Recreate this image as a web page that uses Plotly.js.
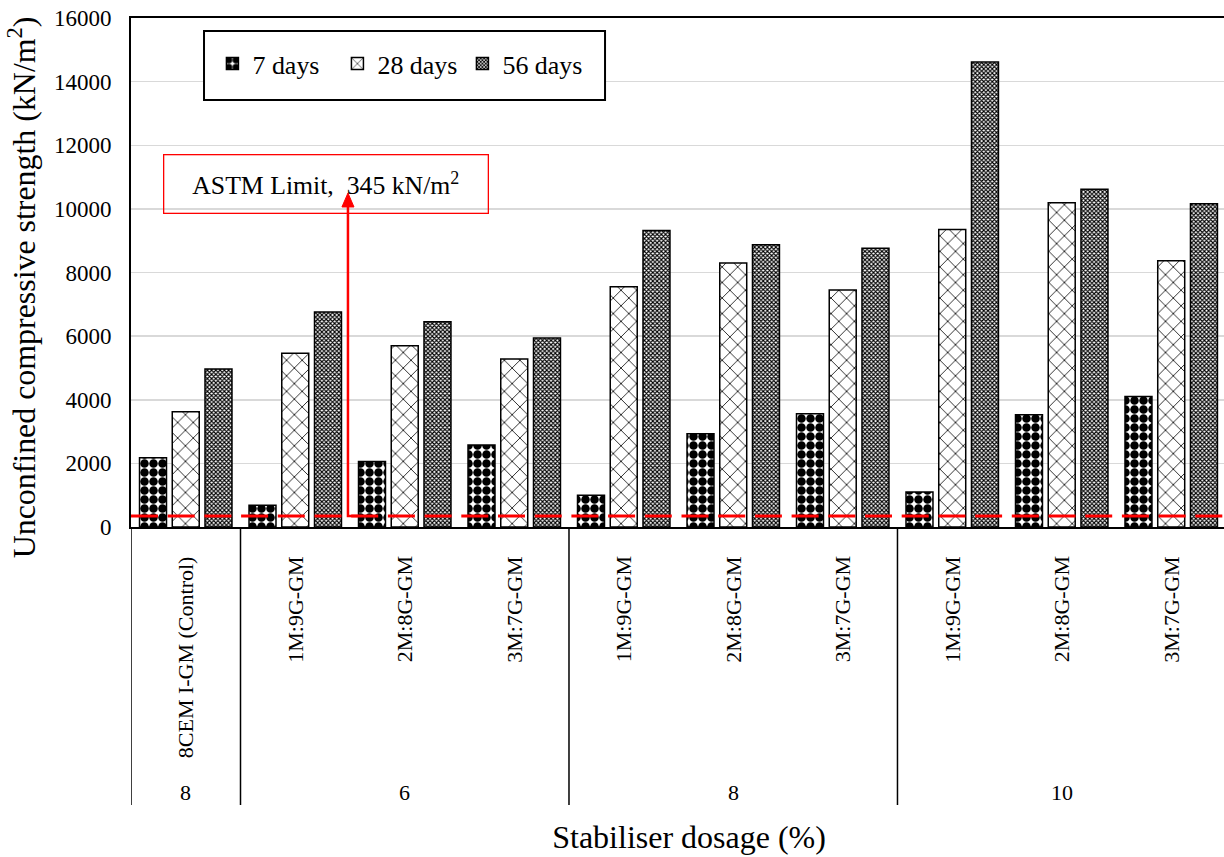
<!DOCTYPE html>
<html>
<head>
<meta charset="utf-8">
<script src="https://cdn.plot.ly/plotly-3.0.1.min.js"></script>
<style>html,body{margin:0;padding:0;overflow:hidden;background:#fff}</style>
</head>
<body>
<div id="chart" style="width:1224px;height:857px"></div>
<script>
// ---- data ----
const mixes = ["8CEM I-GM (Control)", "1M:9G-GM", "2M:8G-GM", "3M:7G-GM", "1M:9G-GM", "2M:8G-GM", "3M:7G-GM", "1M:9G-GM", "2M:8G-GM", "3M:7G-GM"];
const dosageGroups = ["8", "6", "8", "10"];
const groupSizes = [1, 3, 3, 3];
const days7 = [2180, 680, 2060, 2580, 1000, 2930, 3560, 1100, 3530, 4100];
const days28 = [3620, 5460, 5700, 5280, 7550, 8300, 7450, 9350, 10190, 8370];
const days56 = [4970, 6760, 6450, 5940, 9320, 8870, 8760, 14620, 10620, 10160];
const seriesNames = ["7 days", "28 days", "56 days"];
const astmLimit = 345;
const yTicks = [0, 2000, 4000, 6000, 8000, 10000, 12000, 14000, 16000];

const FONT = "Liberation Serif";
const idx = mixes.map((_, i) => i);

const patterns = [
  {shape: ".", size: 9, solidity: 0.7, fgcolor: "#000", bgcolor: "#fff", fillmode: "replace"},
  {shape: "x", size: 11, solidity: 0.14, fgcolor: "#000", bgcolor: "#fff", fillmode: "replace"},
  {shape: "x", size: 3, solidity: 0.6, fgcolor: "#000", bgcolor: "#fff", fillmode: "replace"}
];
const vals = [days7, days28, days56];

const traces = vals.map((v, k) => ({
  type: "bar",
  x: idx,
  y: v,
  name: seriesNames[k],
  marker: {color: "#fff", line: {color: "#000", width: 1.5}, pattern: patterns[k]},
  hoverinfo: "y"
}));

const shapes = [];
const annotations = [];

// ASTM dashed limit line
shapes.push({type: "line", xref: "x", yref: "y", x0: -0.5, x1: 9.5, y0: astmLimit, y1: astmLimit,
  line: {color: "#ff0000", width: 3, dash: "27px,9.7px"}, layer: "above"});

// category dividers under axis
let pos = -0.5;
const bounds = [pos];
groupSizes.forEach(s => { pos += s; bounds.push(pos); });
bounds.forEach(b => {
  shapes.push({type: "line", xref: "x", yref: "paper", x0: b, x1: b, y0: 0, y1: -0.546,
    line: {color: "#000", width: 1.5}});
});
// group labels
let start = 0;
groupSizes.forEach((s, g) => {
  annotations.push({xref: "x", yref: "paper", x: start + (s - 1) / 2, y: -0.522, text: dosageGroups[g],
    showarrow: false, font: {family: FONT, size: 22, color: "#000"}, xanchor: "center", yanchor: "middle"});
  start += s;
});
// inner labels
mixes.forEach((m, i) => {
  annotations.push({xref: "x", yref: "paper", x: i, y: -0.054, text: m, textangle: -90,
    showarrow: false, font: {family: FONT, size: 22, color: "#000"}, xanchor: "center", yanchor: "top"});
});

// x axis title
const xTitleIndex = annotations.length;
annotations.push({xref: "paper", yref: "paper", x: 0.5105, y: -0.611, text: "Stabiliser dosage (%)",
  showarrow: false, font: {family: FONT, size: 22, color: "#000"}, xanchor: "center", yanchor: "middle"});

// ASTM label box
const astmIndex = annotations.length;
annotations.push({xref: "paper", yref: "paper", x: 0.178, y: 0.673, text: "ASTM Limit,  345 kN/m<sup>2</sup>",
  showarrow: false, font: {family: FONT, size: 22, color: "#000"}, bordercolor: "#ff0000", borderwidth: 1.3,
  borderpad: 0, width: 323, height: 57, xanchor: "center", yanchor: "middle"});

// arrow (elbow from limit line up to the label)
const ax = 0.1985;
shapes.push({type: "path", xref: "paper", yref: "y",
  path: `M ${ax + 0.0092},${astmLimit} L ${ax},${astmLimit} L ${ax},10089`,
  line: {color: "#ff0000", width: 2.5}, layer: "above"});
shapes.push({type: "path", xref: "paper", yref: "y",
  path: `M ${ax},10497 L ${ax - 0.0055},10060 L ${ax + 0.0055},10060 Z`,
  line: {color: "#ff0000", width: 1}, fillcolor: "#ff0000", layer: "above"});

// legend frame
shapes.push({type: "rect", xref: "paper", yref: "paper", x0: 0.0668, x1: 0.4337, y0: 0.8389, y1: 0.9745,
  line: {color: "#000", width: 2}, fillcolor: "#fff", layer: "above"});

const layout = {
  width: 1224, height: 857,
  margin: {l: 131, r: 0, t: 18, b: 330},
  paper_bgcolor: "#fff", plot_bgcolor: "#fff",
  font: {family: FONT, color: "#000"},
  barmode: "group",
  bargap: 0.103,
  bargroupgap: 0.176,
  showlegend: true,
  legend: {orientation: "h", x: 0.0745, xanchor: "left", y: 0.91, yanchor: "middle",
    font: {family: FONT, size: 22, color: "#000"}, bgcolor: "rgba(0,0,0,0)", borderwidth: 0,
    entrywidth: 80, entrywidthmode: "pixels", traceorder: "normal"},
  xaxis: {type: "linear", range: [-0.5, 9.482], showticklabels: false, ticks: "", showgrid: false,
    zeroline: false, showline: true, linecolor: "#000", linewidth: 2, mirror: true, fixedrange: true},
  yaxis: {range: [0, 16000], tickvals: yTicks, ticktext: yTicks.map(String), showgrid: true,
    gridcolor: "#d9d9d9", gridwidth: 1.5, zeroline: false, showline: true, linecolor: "#000", linewidth: 2,
    ticks: "", tickfont: {family: FONT, size: 23, color: "#000"}, ticklabelstandoff: 13,
    title: {text: "Unconfined compressive strength (kN/m<sup>2</sup>)", font: {family: FONT, size: 22, color: "#000"}, standoff: 20}},
  shapes: shapes,
  annotations: annotations
};

// Large serif text falls back to a sans face in this renderer, so large texts
// are laid out at 22px and enlarged with an SVG scale.
function enlarge(el, s, anchor, dx, dy) {
  if (!el) return;
  const b = el.getBBox();
  const cx = anchor === "left" ? b.x : b.x + b.width / 2;
  const cy = b.y + b.height / 2;
  const t = el.getAttribute("transform") || "";
  el.setAttribute("transform",
    `${t} translate(${dx || 0},${dy || 0}) translate(${cx},${cy}) scale(${s}) translate(${-cx},${-cy})`);
}

Plotly.newPlot("chart", traces, layout, {staticPlot: true, displayModeBar: false}).then(gd => {
  enlarge(gd.querySelector(".ytitle"), 1.45, "center", -15, 4);
  const anns = gd.querySelectorAll(".annotation");
  anns.forEach(a => {
    const i = +a.getAttribute("data-index");
    const txt = a.querySelector(".annotation-text");
    if (i === xTitleIndex) enlarge(txt, 1.455, "center");
    if (i === astmIndex) enlarge(txt, 1.17, "center");
  });
  gd.querySelectorAll(".legendtext").forEach(t => enlarge(t, 1.18, "left"));
});
</script>
</body>
</html>
